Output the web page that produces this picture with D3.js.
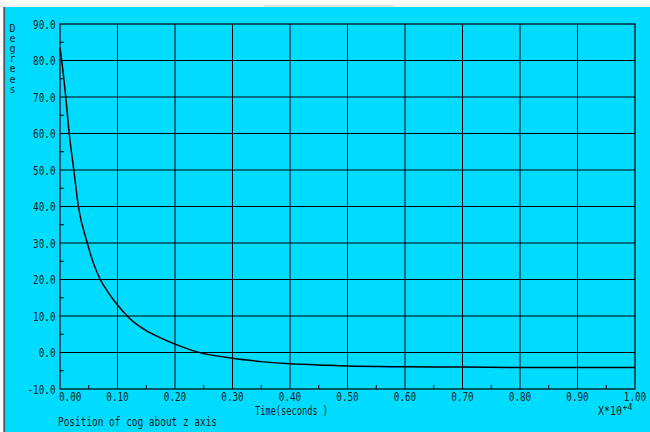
<!DOCTYPE html>
<html>
<head>
<meta charset="utf-8">
<script src="https://cdn.jsdelivr.net/npm/d3@7"></script>
<style>
  html, body { margin: 0; padding: 0; background: #ffffff; }
  svg { display: block; }
  text { font-family: "DejaVu Sans Mono", "Liberation Mono", monospace; fill: #0d1f24; }
</style>
</head>
<body>
<svg id="chart" width="650" height="432"></svg>
<script>
// Rotation of the centre of gravity about the z axis over time
const timeX = [0, 0.003, 0.010, 0.016, 0.024, 0.032, 0.0475, 0.058, 0.070, 0.085, 0.100, 0.117, 0.130, 0.150, 0.175, 0.200, 0.240, 0.300, 0.350, 0.400, 0.450, 0.500, 0.600, 0.700, 0.800, 0.900, 1.000];
const degrees = [83.5, 80, 70, 60, 50, 40, 30, 24.5, 20, 16.2, 13.0, 10.0, 8.1, 6.0, 4.0, 2.3, 0.1, -1.6, -2.5, -3.1, -3.4, -3.7, -3.9, -4.0, -4.1, -4.1, -4.1];

const xTicks = [0, 0.1, 0.2, 0.3, 0.4, 0.5, 0.6, 0.7, 0.8, 0.9, 1.0];
const xTickLabels = ["0.00", "0.10", "0.20", "0.30", "0.40", "0.50", "0.60", "0.70", "0.80", "0.90", "1.00"];
const yTicks = [90, 80, 70, 60, 50, 40, 30, 20, 10, 0, -10];
const yTickLabels = ["90.0", "80.0", "70.0", "60.0", "50.0", "40.0", "30.0", "20.0", "10.0", "0.0", "-10.0"];
const xMinor = [0.05, 0.15, 0.25, 0.35, 0.45, 0.55, 0.65, 0.75, 0.85, 0.95];
const yMinor = [85, 75, 65, 55, 45, 35, 25, 15, 5, -5];

const yTitle = "Degrees";
const xTitle = "Time(seconds )";
const xScaleNote = "X*10";
const xScaleExp = "+4";
const caption = "Position of cog about z axis";

const svg = d3.select("#chart");
const W = 650, H = 432;
const plot = { left: 60, right: 635, top: 24, bottom: 389 };
const CH = 5.6; // glyph advance for the condensed labels

const x = d3.scaleLinear().domain([0, 1]).range([plot.left, plot.right]);
const y = d3.scaleLinear().domain([-10, 90]).range([plot.bottom, plot.top]);

// window frame
svg.append("rect").attr("x", 0).attr("y", 0).attr("width", W).attr("height", H).attr("fill", "#ffffff");
svg.append("rect").attr("x", 5).attr("y", 7).attr("width", W - 5).attr("height", H - 7).attr("fill", "#00dcff");
svg.append("line").attr("x1", 0).attr("x2", W).attr("y1", 6).attr("y2", 6)
  .attr("stroke", "#ececec").attr("stroke-width", 1.2);
svg.append("line").attr("x1", 264).attr("x2", 393).attr("y1", 6).attr("y2", 6)
  .attr("stroke", "#d0d0d0").attr("stroke-width", 1.2);
svg.append("line").attr("x1", 4.2).attr("x2", 4.2).attr("y1", 7).attr("y2", H)
  .attr("stroke", "#4a5a60").attr("stroke-width", 1.8);

// grid
const grid = svg.append("g").attr("stroke", "#000").attr("stroke-width", 1);
grid.selectAll(".gx").data(xTicks.slice(1, -1)).join("line")
  .attr("x1", d => x(d)).attr("x2", d => x(d))
  .attr("y1", plot.top).attr("y2", plot.bottom);
grid.selectAll(".gy").data(yTicks.slice(1, -1)).join("line")
  .attr("x1", plot.left).attr("x2", plot.right)
  .attr("y1", d => y(d)).attr("y2", d => y(d));

// plot border
svg.append("rect")
  .attr("x", plot.left).attr("y", plot.top)
  .attr("width", plot.right - plot.left).attr("height", plot.bottom - plot.top)
  .attr("fill", "none").attr("stroke", "#000").attr("stroke-width", 1.2);

// minor ticks
svg.append("g").attr("stroke", "#000").selectAll("line").data(xMinor).join("line")
  .attr("x1", d => x(d)).attr("x2", d => x(d))
  .attr("y1", plot.bottom).attr("y2", plot.bottom - 4);
svg.append("g").attr("stroke", "#000").selectAll("line").data(yMinor).join("line")
  .attr("x1", plot.left).attr("x2", plot.left + 4)
  .attr("y1", d => y(d)).attr("y2", d => y(d));

// tick labels
svg.append("g").selectAll("text").data(yTicks).join("text")
  .attr("x", (d, i) => 55.5 - yTickLabels[i].length * CH)
  .attr("y", d => y(d) + 4.5)
  .attr("font-size", 12)
  .attr("textLength", (d, i) => yTickLabels[i].length * CH)
  .attr("lengthAdjust", "spacingAndGlyphs")
  .text((d, i) => yTickLabels[i]);

svg.append("g").selectAll("text").data(xTicks).join("text")
  .attr("x", (d, i) => i === 0 ? x(d) - 1 : x(d) - xTickLabels[i].length * CH / 2)
  .attr("y", 401)
  .attr("font-size", 12)
  .attr("textLength", (d, i) => xTickLabels[i].length * CH)
  .attr("lengthAdjust", "spacingAndGlyphs")
  .text((d, i) => xTickLabels[i]);

// vertical axis title, letters stacked
svg.append("g").selectAll("text").data(yTitle.split("")).join("text")
  .attr("x", 12.5).attr("y", (d, i) => 31.5 + i * 10.2)
  .attr("text-anchor", "middle")
  .attr("font-size", 10)
  .text(d => d);

// horizontal axis title and scale note
svg.append("text").attr("x", 255).attr("y", 414.5).attr("font-size", 12)
  .attr("textLength", 73).attr("lengthAdjust", "spacingAndGlyphs").text(xTitle);
svg.append("text").attr("x", 598).attr("y", 414.5).attr("font-size", 12)
  .attr("textLength", 24).attr("lengthAdjust", "spacingAndGlyphs").text(xScaleNote);
svg.append("text").attr("x", 622.5).attr("y", 409.5).attr("font-size", 8.5)
  .attr("textLength", 10).attr("lengthAdjust", "spacingAndGlyphs").text(xScaleExp);

// caption
svg.append("text").attr("x", 58).attr("y", 425.5).attr("font-size", 12)
  .attr("textLength", 159).attr("lengthAdjust", "spacingAndGlyphs").text(caption);

// response curve
const line = d3.line()
  .x((d, i) => x(timeX[i]))
  .y(d => y(d))
  .curve(d3.curveMonotoneX);
svg.append("path")
  .datum(degrees)
  .attr("d", line)
  .attr("fill", "none")
  .attr("stroke", "#000")
  .attr("stroke-width", 1.5);
</script>
</body>
</html>
